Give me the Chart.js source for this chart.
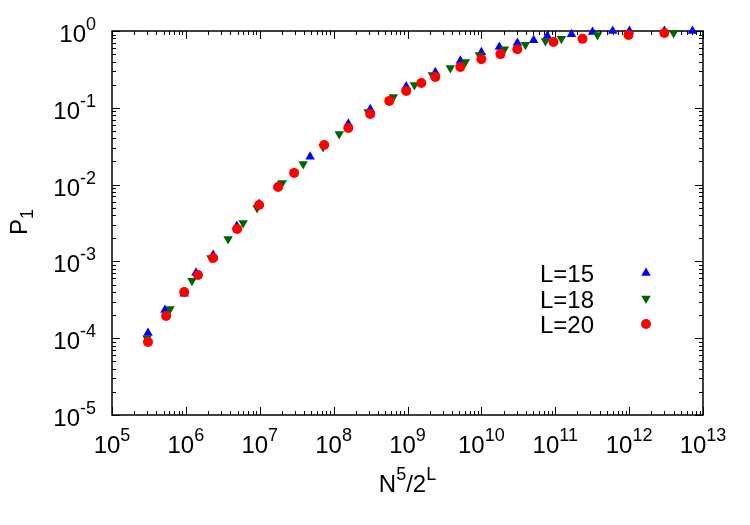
<!DOCTYPE html>
<html>
<head>
<meta charset="utf-8">
<script src="https://cdn.jsdelivr.net/npm/chart.js@4.4.1/dist/chart.umd.min.js"></script>
<style>
  html, body { margin: 0; padding: 0; background: #fff; }
</style>
</head>
<body>
<canvas id="chart" width="750" height="525"></canvas>
<script>
// L=15
const x15 = [3.07e5, 5.2e5, 9.5e5, 1.37e6, 2.34e6, 4.9e6, 9.8e6, 1.77e7, 4.8e7, 1.58e8, 3.13e8, 9.6e8, 2.38e9, 5.2e9, 1.0e10, 1.75e10, 3.07e10, 5.1e10, 7.8e10, 1.66e11, 3.2e11, 6.0e11, 1.01e12, 3.0e12, 7.2e12];
const p15 = [1.17e-4, 2.33e-4, 3.8e-4, 7.1e-4, 1.21e-3, 2.9e-3, 5.6e-3, 9.6e-3, 2.3e-2, 6.2e-2, 9.6e-2, 0.19, 0.29, 0.41, 0.53, 0.62, 0.70, 0.76, 0.86, 0.91, 0.97, 1.0, 1.0, 1.0, 1.0];
// L=18
const x18 = [2.98e5, 6.1e5, 1.21e6, 2.19e6, 3.73e6, 5.96e6, 9.2e6, 2.01e7, 3.87e7, 7.2e7, 1.19e8, 2.94e8, 6.43e8, 1.24e9, 2.17e9, 3.8e9, 6.07e9, 9.4e9, 2.05e10, 3.94e10, 7.37e10, 1.21e11, 3.73e11, 4.0e12];
const p18 = [1.0e-4, 2.4e-4, 5.6e-4, 1.11e-3, 1.96e-3, 3.16e-3, 4.96e-3, 1.05e-2, 1.85e-2, 3.09e-2, 4.56e-2, 8.8e-2, 0.138, 0.198, 0.267, 0.33, 0.395, 0.487, 0.58, 0.66, 0.74, 0.79, 0.89, 0.94];
// L=20
const x20 = [3.07e5, 5.4e5, 9.5e5, 1.46e6, 2.34e6, 4.94e6, 9.8e6, 1.77e7, 2.92e7, 7.46e7, 1.58e8, 3.13e8, 5.67e8, 9.6e8, 1.54e9, 2.38e9, 5.19e9, 1.0e10, 1.81e10, 3.07e10, 9.46e10, 2.34e11, 9.8e11, 3.0e12];
const p20 = [8.9e-5, 1.95e-4, 4.0e-4, 6.65e-4, 1.11e-3, 2.64e-3, 5.42e-3, 9.3e-3, 1.42e-2, 3.28e-2, 5.46e-2, 8.3e-2, 0.123, 0.166, 0.21, 0.252, 0.34, 0.43, 0.50, 0.58, 0.72, 0.79, 0.89, 0.94];

const seriesNames = ["L=15", "L=18", "L=20"];
const xTickExps = [5, 6, 7, 8, 9, 10, 11, 12, 13];
const yTickExps = [0, -1, -2, -3, -4, -5];

const FONT = "'Liberation Sans', Arial, Helvetica, sans-serif";

function pts(xs, ys) {
  return xs.map(function (v, i) { return { x: v, y: ys[i] }; });
}

// draws text with superscript / subscript parts
function rich(ctx, parts, x, y, align) {
  let w = 0;
  parts.forEach(function (p) {
    ctx.font = (p.s ? 18 : 24) + "px " + FONT;
    p.w = ctx.measureText(p.t).width;
    w += p.w;
  });
  let cx = align === "right" ? x - w : align === "center" ? x - w / 2 : x;
  ctx.textAlign = "left";
  ctx.textBaseline = "alphabetic";
  parts.forEach(function (p) {
    ctx.font = (p.s ? 18 : 24) + "px " + FONT;
    let dy = p.s === "sup" ? -12 : p.s === "sub" ? 6 : 0;
    ctx.fillText(p.t, cx, y + dy);
    cx += p.w;
  });
}

const gnuFrame = {
  id: "gnuFrame",
  beforeDatasetsDraw(chart) {
    const { ctx, chartArea: a, scales: { x, y } } = chart;
    ctx.save();
    ctx.strokeStyle = "#000";
    ctx.lineWidth = 1;
    function seg(x1, y1, x2, y2) {
      ctx.beginPath();
      ctx.moveTo(x1, y1);
      ctx.lineTo(x2, y2);
      ctx.stroke();
    }
    for (let e = 5; e <= 13; e++) {
      for (let m = 1; m <= 9; m++) {
        const v = m * Math.pow(10, e);
        if (v > 1e13) break;
        const len = m === 1 ? 8 : 4;
        const px = Math.round(x.getPixelForValue(v)) + 0.5;
        seg(px, a.bottom, px, a.bottom - len);
        seg(px, a.top, px, a.top + len);
      }
    }
    for (let e = -5; e <= 0; e++) {
      for (let m = 1; m <= 9; m++) {
        const v = m * Math.pow(10, e);
        if (v > 1) break;
        const len = m === 1 ? 8 : 4;
        const py = Math.round(y.getPixelForValue(v)) + 0.5;
        seg(a.left, py, a.left + len, py);
        seg(a.right, py, a.right - len, py);
      }
    }
    ctx.lineWidth = 1.5;
    ctx.strokeRect(a.left, a.top, a.right - a.left, a.bottom - a.top);
    ctx.restore();
  },
  afterDraw(chart) {
    const { ctx, chartArea: a, scales: { x, y } } = chart;
    ctx.save();
    ctx.fillStyle = "#000";

    xTickExps.forEach(function (e) {
      rich(ctx, [{ t: "10" }, { t: String(e), s: "sup" }], x.getPixelForValue(Math.pow(10, e)), 453, "center");
    });
    yTickExps.forEach(function (e) {
      rich(ctx, [{ t: "10" }, { t: String(e), s: "sup" }], 96, y.getPixelForValue(Math.pow(10, e)) + 11, "right");
    });

    // axis titles
    rich(ctx, [{ t: "N" }, { t: "5", s: "sup" }, { t: "/2" }, { t: "L", s: "sup" }], (a.left + a.right) / 2, 492, "center");
    ctx.save();
    ctx.translate(27, 222);
    ctx.rotate(-Math.PI / 2);
    rich(ctx, [{ t: "P" }, { t: "1", s: "sub" }], 0, 0, "center");
    ctx.restore();

    // key
    chart.data.datasets.forEach(function (ds, i) {
      const by = 282 + i * 25.5;
      rich(ctx, [{ t: seriesNames[i] }], 594, by, "right");
      ctx.fillStyle = ds.backgroundColor;
      const opts = { pointStyle: ds.pointStyle, rotation: ds.rotation || 0, radius: ds.pointRadius, borderWidth: 0 };
      ctx.strokeStyle = ds.backgroundColor;
      ctx.lineWidth = 0;
      Chart.helpers.drawPoint(ctx, opts, 646, by - 9);
      ctx.fillStyle = "#000";
    });
    ctx.restore();
  }
};

new Chart(document.getElementById("chart"), {
  type: "scatter",
  data: {
    datasets: [
      { label: seriesNames[0], data: pts(x15, p15), pointStyle: "triangle", rotation: 0, pointRadius: 5.5,
        backgroundColor: "#0000ff", borderColor: "#0000ff", borderWidth: 0, order: 3, clip: false },
      { label: seriesNames[1], data: pts(x18, p18), pointStyle: "triangle", rotation: 180, pointRadius: 5.5,
        backgroundColor: "#006400", borderColor: "#006400", borderWidth: 0, order: 2, clip: false },
      { label: seriesNames[2], data: pts(x20, p20), pointStyle: "circle", pointRadius: 5,
        backgroundColor: "#ff0000", borderColor: "#ff0000", borderWidth: 0, order: 1, clip: false }
    ]
  },
  options: {
    responsive: false,
    animation: false,
    devicePixelRatio: 1,
    layout: { padding: { left: 112, top: 31, right: 47, bottom: 110 } },
    elements: { point: { hoverRadius: 5 } },
    plugins: { legend: { display: false }, tooltip: { enabled: false } },
    scales: {
      x: { type: "logarithmic", min: 1e5, max: 1e13, display: false },
      y: { type: "logarithmic", min: 1e-5, max: 1, display: false }
    }
  },
  plugins: [gnuFrame]
});
</script>
</body>
</html>
